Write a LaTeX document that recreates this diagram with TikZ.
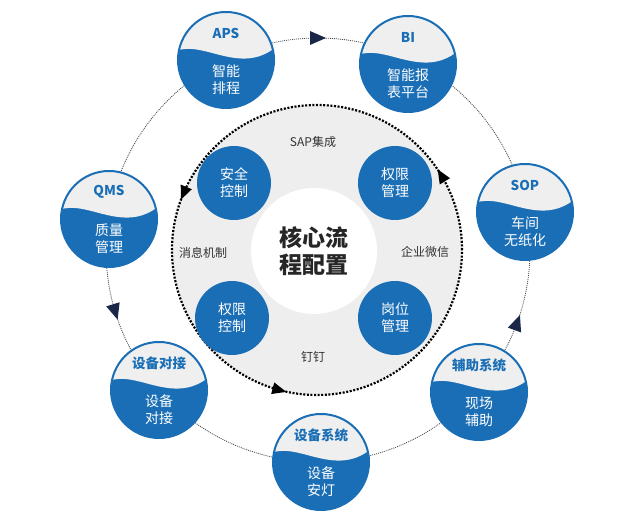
\documentclass[tikz,border=0pt]{standalone}
\usepackage{fontspec}
\setmainfont{Noto Sans CJK SC}
\definecolor{mblue}{HTML}{1A6EB6}
\definecolor{wavegray}{HTML}{EFEFEF}
\definecolor{ringgray}{HTML}{EEEEEE}
\definecolor{navy}{HTML}{1B2747}
\tikzset{
  bigcirc/.style={circle, draw=mblue, line width=2pt, minimum size=96pt, inner sep=0pt},
  bigtitle/.style={text=mblue, font=\fontsize{13.5}{15}\selectfont\bfseries, inner sep=0pt},
  bigtext/.style={text=white, align=center, font=\fontsize{14}{17}\selectfont, inner sep=0pt},
  smallcirc/.style={circle, fill=mblue, minimum size=74pt, inner sep=0pt, text=white, align=center, font=\fontsize{14}{17}\selectfont},
  ringlabel/.style={text=black!80, font=\fontsize{12}{14}\selectfont, inner sep=0pt},
  outerring/.style={draw=black!70, line width=0.8pt, dash pattern=on 1pt off 1pt},
  innerring/.style={draw=black, line width=2.2pt, dash pattern=on 2pt off 1.6pt},
}
\newcommand\wavenode[5]{%
  \begin{scope}[shift={(#2,#3)}]
    \begin{scope}
      \clip (0,0) circle (48);
      \fill[mblue] (-50,-50) rectangle (50,50);
      \fill[wavegray] (-50,9) .. controls (-22,20) and (14,-16) .. (50,13) -- (50,50) -- (-50,50) -- cycle;
    \end{scope}
    \node[bigcirc] (#1) at (0,0) {};
    \node[bigtitle] (#1-t) at (0,27) {#4};
    \node[bigtext] (#1-b) at (0,-19.5) {#5};
  \end{scope}}
% arrow on a ring: cx, cy, r, angle, direction (1 = ccw, -1 = cw), half length, half width, colour
\newcommand\ringarrow[8]{%
  \fill[#8, shift={(#1,#2)}, rotate=#4] (#3, #5*#6) -- (#3-#7, -#5*#6) -- (#3+#7, -#5*#6) -- cycle;}
\begin{document}
\begin{tikzpicture}[x=1pt, y=1pt]
\useasboundingbox (0,0) rectangle (640,524);
\fill[white] (0,0) rectangle (640,524);
% outer ring
\coordinate (O) at (318,274);
\draw[outerring] (O) circle (212);
% inner ring
\coordinate (I) at (317,274);
\fill[ringgray] (I) circle (145);
\draw[innerring] (I) circle (145);
\fill[white] (314,273) circle (63);
\node[font=\fontsize{23}{27}\selectfont\bfseries, text=black!85, align=center] (core) at (314,273) {核心流\\程配置};
% small circles
\node[smallcirc] (s1) at (234,341) {安全\\控制};
\node[smallcirc] (s2) at (395,341) {权限\\管理};
\node[smallcirc] (s3) at (232,206) {权限\\控制};
\node[smallcirc] (s4) at (395,206) {岗位\\管理};
% ring labels
\node[ringlabel] (l1) at (313,382) {SAP集成};
\node[ringlabel] (l2) at (203,271) {消息机制};
\node[ringlabel] (l3) at (425,272) {企业微信};
\node[ringlabel] (l4) at (313,167) {钉钉};
% inner arrows
\ringarrow{317}{274}{145}{31}{1}{7}{6}{black}
\ringarrow{317}{274}{145}{157}{1}{7}{6}{black}
\ringarrow{317}{274}{145}{255}{1}{7}{6}{black}
% outer arrows
\ringarrow{318}{274}{212}{90}{-1}{8}{7}{navy}
\ringarrow{318}{274}{212}{197}{1}{8}{7}{navy}
\ringarrow{318}{274}{212}{-20}{1}{8}{7}{navy}
% big wave nodes
\wavenode{aps}{226}{464}{APS}{智能\\排程}
\wavenode{bi}{408}{460}{BI}{智能报\\表平台}
\wavenode{qms}{109}{305}{QMS}{质量\\管理}
\wavenode{sop}{525}{312}{SOP}{车间\\无纸化}
\wavenode{sbdj}{159}{134}{设备对接}{设备\\对接}
\wavenode{sbxt}{321}{62}{设备系统}{设备\\安灯}
\wavenode{fzxt}{479}{132}{辅助系统}{现场\\辅助}
\end{tikzpicture}
\end{document}
